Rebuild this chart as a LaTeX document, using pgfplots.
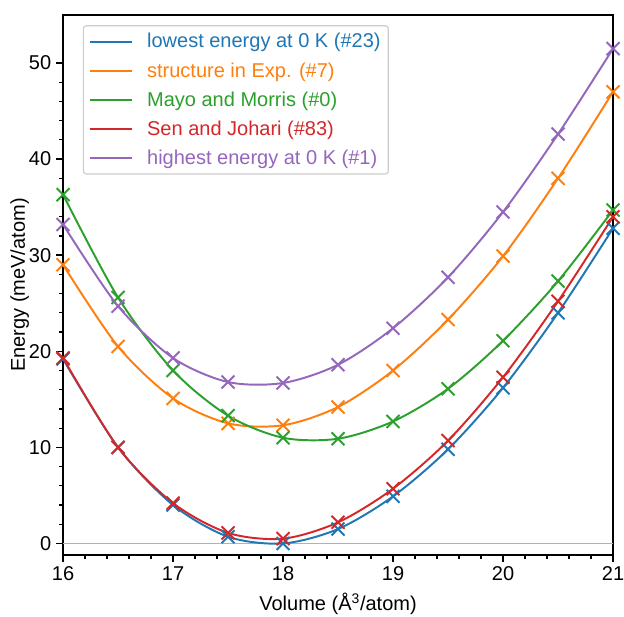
\documentclass[border=0pt]{standalone}
\usepackage{pgfplots}
\pgfplotsset{compat=1.18}
\usepackage{pgfplotstable}
\usepackage{fontspec}
\setmainfont{Liberation Sans}

\definecolor{c0}{HTML}{1F77B4}
\definecolor{c1}{HTML}{FF7F0E}
\definecolor{c2}{HTML}{2CA02C}
\definecolor{c3}{HTML}{D62728}
\definecolor{c4}{HTML}{9467BD}

% energies in meV/atom, volume in A^3/atom
\pgfplotstableread{
V     lo    ex    mm    sj    hi
16.0  19.2  29.0  36.3  19.3  33.2
16.5  10.0  20.5  25.6  10.0  24.7
17.0  4.0   15.1  18.0  4.2   19.3
17.5  0.7   12.5  13.3  1.1   16.8
18.0  0.0   12.3  11.0  0.5   16.7
18.5  1.5   14.2  10.9  2.2   18.6
19.0  4.9   18.0  12.7  5.7   22.4
19.5  9.8   23.3  16.1  10.7  27.7
20.0  16.2  29.9  21.1  17.3  34.5
20.5  24.0  38.0  27.3  25.2  42.6
21.0  32.8  47.0  34.7  34.0  51.5
}\energies

\begin{document}
\begin{tikzpicture}[font=\fontsize{14.4}{17.3}\selectfont]
\begin{axis}[
    scale only axis,
    width=396pt, height=388.8pt,
    xmin=16, xmax=21,
    ymin=-1.2, ymax=55,
    xtick={16,17,...,21},
    ytick={0,10,...,50},
    minor x tick num=4,
    minor y tick num=4,
    tick align=outside,
    tick pos=left,
    major tick length=5pt,
    minor tick length=2.9pt,
    major tick style={black, line width=1.1pt},
    minor tick style={black, line width=0.85pt},
    axis line style={line width=1.1pt},
    /pgf/number format/assume math mode=true,
    xlabel={Volume (Å\textsuperscript{3}/atom)},
    ylabel={Energy (meV/atom)},
    ylabel shift=-7pt,
    xlabel shift=2pt,
    legend cell align=left,
    legend style={
        at={(0.036,0.981)}, anchor=north west,
        draw=black!20, rounded corners=2pt, line width=0.8pt,
        fill=white, fill opacity=0.8, text opacity=1,
        inner xsep=4pt, inner ysep=4pt,
        row sep=6pt,
        column sep=9pt,
        nodes={inner sep=1.5pt},
    },
    legend image code/.code={\draw[#1] (0pt,0pt) -- (30pt,0pt);},
    every axis plot/.append style={line width=1.4pt},
]
\addplot[gray!60, line width=1pt, forget plot] coordinates {(16,0) (21,0)};

\addplot[c0, smooth] table[x=V, y=lo] {\energies};
\addlegendentry{\textcolor{c0}{lowest energy at 0 K (\#23)}}
\addplot[c1, smooth] table[x=V, y=ex] {\energies};
\addlegendentry{\textcolor{c1}{structure in Exp. (\#7)}}
\addplot[c2, smooth] table[x=V, y=mm] {\energies};
\addlegendentry{\textcolor{c2}{Mayo and Morris (\#0)}}
\addplot[c3, smooth] table[x=V, y=sj] {\energies};
\addlegendentry{\textcolor{c3}{Sen and Johari (\#83)}}
\addplot[c4, smooth] table[x=V, y=hi] {\energies};
\addlegendentry{\textcolor{c4}{highest energy at 0 K (\#1)}}

\addplot[c0, only marks, mark=x, mark size=6.6pt, forget plot] table[x=V, y=lo] {\energies};
\addplot[c1, only marks, mark=x, mark size=6.6pt, forget plot] table[x=V, y=ex] {\energies};
\addplot[c2, only marks, mark=x, mark size=6.6pt, forget plot] table[x=V, y=mm] {\energies};
\addplot[c3, only marks, mark=x, mark size=6.6pt, forget plot] table[x=V, y=sj] {\energies};
\addplot[c4, only marks, mark=x, mark size=6.6pt, forget plot] table[x=V, y=hi] {\energies};
\end{axis}
\pgfresetboundingbox
\path[use as bounding box] ([shift={(-45.4pt,-44.6pt)}]current axis.south west)
    rectangle ([shift={(7.9pt,10.8pt)}]current axis.north east);
\end{tikzpicture}
\end{document}
